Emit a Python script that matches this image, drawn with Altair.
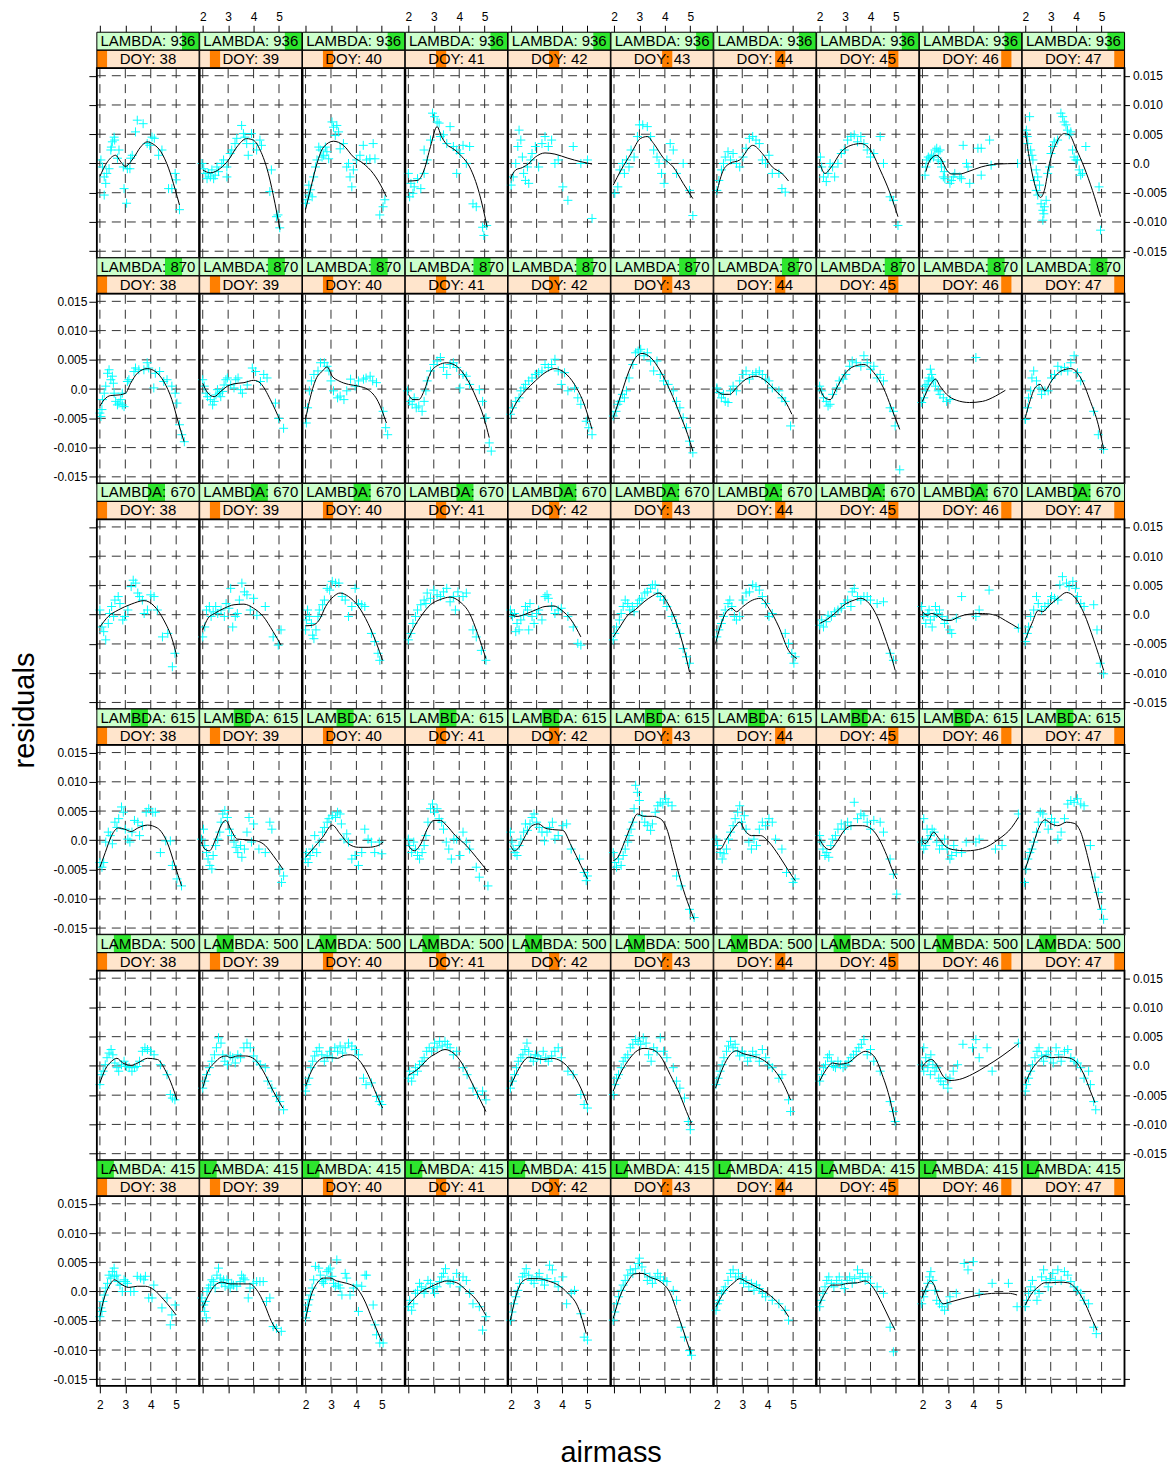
import altair as alt
import pandas as pd

# ---------------- categories / ticks ----------------
LAMBDA_ROWS = [936, 870, 670, 615, 500, 415]          # top to bottom
LAMBDA_LEVELS = [415, 500, 615, 670, 870, 936]        # factor order (strip highlight)
DOYS = [38, 39, 40, 41, 42, 43, 44, 45, 46, 47]
X_TICKS = [2, 3, 4, 5]
Y_TICKS = [-0.015, -0.010, -0.005, 0.0, 0.005, 0.010, 0.015]

# ---------------- smooth curves (airmass, residual*1e3), one list per DOY ----------------
CURVE_936 = [
    [2.0,-2.2, 2.3,0.3, 2.62,1.4, 2.8,0.4, 3.0,-0.5, 3.3,0.8, 3.6,2.8, 3.86,3.7, 4.1,3.3, 4.4,2.0, 4.7,-0.8, 4.95,-4.3, 5.13,-7.1],
    [2.0,-1.1, 2.3,-1.6, 2.69,-0.85, 3.01,0.57, 3.34,2.8, 3.73,4.25, 4.0,3.96, 4.26,2.27, 4.58,-1.7, 4.84,-6.8, 5.04,-11.3],
    [2.0,-7.9, 2.19,-4.5, 2.45,0.0, 2.71,2.8, 3.1,3.8, 3.49,3.1, 3.88,1.13, 4.27,0.0, 4.66,-1.7, 5.05,-4.5, 5.18,-5.7],
    [2.0,-3.0, 2.36,-2.9, 2.62,-1.1, 2.87,2.9, 3.13,6.3, 3.3,4.6, 3.5,3.3, 3.8,2.4, 4.1,1.2, 4.41,-0.6, 4.79,-5.1, 5.10,-10.9],
    [1.97,-2.6, 2.18,-1.1, 2.44,-0.7, 2.69,0.0, 2.95,1.1, 3.33,1.8, 3.72,1.6, 4.23,0.9, 4.74,0.3, 5.18,-0.1],
    [1.97,-3.7, 2.28,-1.1, 2.67,1.7, 3.05,4.3, 3.31,4.6, 3.56,3.4, 3.95,0.9, 4.33,-0.6, 4.72,-3.4, 5.10,-6.0],
    [2.0,-4.9, 2.26,-1.1, 2.51,0.0, 2.9,0.6, 3.41,3.1, 3.79,1.7, 4.18,-0.6, 4.56,-1.7, 4.82,-3.0],
    [2.03,-0.3, 2.21,-1.7, 2.46,-0.6, 2.85,2.0, 3.23,3.1, 3.62,3.4, 4.0,2.3, 4.38,-1.1, 4.77,-5.1, 5.08,-9.1],
    [2.13,-1.4, 2.30,0.6, 2.56,1.4, 2.75,0.6, 2.95,-1.1, 3.14,-1.8, 3.47,-1.8, 3.79,-1.4, 4.31,-0.6, 4.96,-0.1, 5.74,0.0],
    [2.0,5.4, 2.17,0.6, 2.36,-3.4, 2.60,-5.8, 2.75,-4.6, 2.95,0.0, 3.21,3.4, 3.53,5.1, 3.73,4.9, 3.99,2.6, 4.31,-0.6, 4.64,-4.6, 4.96,-9.1],
]
CURVE_870 = [
    [2.0,-2.9, 2.17,-1.8, 2.43,-1.1, 2.75,-1.0, 3.01,-0.7, 3.21,1.0, 3.47,2.7, 3.86,3.5, 4.18,3.0, 4.51,1.3, 4.83,-1.8, 5.09,-5.8, 5.31,-9.0],
    [2.0,1.0, 2.19,-0.6, 2.45,-1.3, 2.71,-0.4, 2.97,0.5, 3.23,0.9, 3.62,1.1, 4.01,1.5, 4.27,1.0, 4.66,-1.8, 5.05,-5.5],
    [2.0,-5.2, 2.15,-2.1, 2.41,1.7, 2.67,3.1, 2.85,3.8, 3.05,2.2, 3.31,1.4, 3.69,0.8, 4.08,0.5, 4.46,-0.1, 4.85,-2.1, 5.18,-5.8],
    [2.0,-0.9, 2.18,-1.8, 2.41,-1.8, 2.62,-0.3, 2.87,2.8, 3.18,4.1, 3.51,4.5, 3.90,3.9, 4.28,1.9, 4.67,-1.5, 4.97,-4.9, 5.18,-8.3],
    [1.97,-4.3, 2.23,-2.1, 2.56,-0.3, 2.95,1.4, 3.33,2.8, 3.72,3.5, 4.10,2.8, 4.49,0.8, 4.87,-2.6, 5.18,-6.9],
    [1.97,-4.9, 2.28,-0.9, 2.59,3.1, 2.85,5.4, 3.10,6.1, 3.44,5.4, 3.82,3.1, 4.21,-0.3, 4.59,-4.3, 4.90,-7.8, 5.10,-10.6],
    [2.0,-0.3, 2.26,-0.9, 2.51,-0.9, 2.77,0.2, 3.15,1.7, 3.54,2.2, 3.92,1.4, 4.31,-0.3, 4.69,-2.1, 4.95,-4.3],
    [2.0,0.2, 2.21,-1.5, 2.41,-1.8, 2.67,0.2, 2.97,2.5, 3.36,3.9, 3.74,4.2, 4.13,2.8, 4.51,0.2, 4.82,-3.2, 5.15,-6.9],
    [2.0,-2.1, 2.18,-0.3, 2.36,1.1, 2.51,1.7, 2.69,0.5, 2.95,-0.9, 3.33,-1.9, 3.85,-2.3, 4.36,-2.1, 4.87,-1.2, 5.26,-0.2],
    [2.0,-4.9, 2.18,-2.1, 2.38,0.2, 2.59,0.8, 2.77,-0.3, 3.03,1.4, 3.41,3.1, 3.79,3.5, 4.18,1.9, 4.56,-2.1, 4.87,-6.1, 5.08,-10.3],
]
CURVE_670 = [
    [2.0,-2.1, 2.33,-0.3, 2.72,0.8, 3.23,1.8, 3.74,2.4, 4.13,1.5, 4.51,-0.9, 4.85,-4.3, 5.03,-7.2],
    [2.0,-2.6, 2.21,-0.6, 2.46,0.2, 2.85,1.1, 3.23,1.7, 3.62,1.8, 4.0,1.1, 4.38,-0.3, 4.77,-2.9, 5.08,-5.2],
    [2.0,-1.9, 2.28,-1.8, 2.54,-0.9, 2.79,1.4, 3.10,3.1, 3.36,3.7, 3.69,3.1, 4.08,1.4, 4.46,-1.5, 4.79,-4.9, 5.03,-7.8],
    [2.0,-4.1, 2.23,-2.1, 2.49,-0.3, 2.87,1.7, 3.26,2.6, 3.64,3.0, 4.03,2.2, 4.41,0.2, 4.72,-3.2, 5.05,-7.5],
    [1.97,0.1, 2.23,-0.3, 2.56,0.1, 2.95,0.8, 3.33,1.4, 3.67,1.5, 3.97,0.8, 4.36,-0.9, 4.74,-3.8],
    [1.97,-3.8, 2.23,-2.1, 2.54,-0.1, 2.85,0.9, 3.18,2.2, 3.51,3.2, 3.77,3.7, 4.08,2.2, 4.46,-1.5, 4.77,-6.1, 4.97,-9.8],
    [1.95,-4.9, 2.13,-2.1, 2.38,0.5, 2.59,1.1, 2.77,0.5, 3.03,1.4, 3.41,2.5, 3.72,2.8, 4.05,1.1, 4.44,-2.1, 4.82,-6.1, 5.15,-7.5],
    [2.0,-1.5, 2.26,-0.9, 2.59,0.2, 2.97,1.7, 3.36,2.5, 3.62,2.8, 3.95,1.9, 4.26,-0.3, 4.56,-3.8, 4.82,-7.2, 4.97,-9.5],
    [2.0,0.5, 2.18,-0.1, 2.36,0.2, 2.56,-0.1, 2.82,-0.9, 3.08,-1.0, 3.46,-0.3, 3.85,0.1, 4.36,0.2, 4.87,-0.1, 5.26,-1.0, 5.77,-2.3],
    [2.0,-4.3, 2.26,-1.5, 2.51,0.7, 2.69,0.5, 2.90,1.4, 3.28,2.8, 3.62,3.8, 3.92,3.1, 4.31,0.2, 4.69,-4.3, 5.08,-9.5],
]
CURVE_615 = [
    [2.0,-4.6, 2.21,-2.1, 2.46,0.8, 2.72,2.1, 2.97,1.9, 3.23,1.5, 3.49,2.1, 3.87,2.6, 4.26,2.1, 4.64,-0.3, 4.95,-4.3, 5.21,-7.8],
    [1.95,-0.3, 2.08,-1.5, 2.26,-1.8, 2.51,0.2, 2.72,2.5, 2.90,3.4, 3.10,1.9, 3.36,0.2, 3.74,0.1, 4.13,-0.1, 4.46,-0.9, 4.77,-2.6, 5.15,-4.9],
    [2.0,-2.9, 2.28,-1.5, 2.67,0.5, 3.05,2.6, 3.36,1.1, 3.69,-0.6, 4.08,-1.2, 4.46,-1.2, 4.85,-0.9, 5.05,-0.3],
    [2.0,-0.9, 2.23,-1.8, 2.49,-0.6, 2.74,1.9, 3.0,3.4, 3.26,3.4, 3.51,2.5, 3.85,0.8, 4.28,-0.9, 4.67,-2.9, 5.13,-5.4],
    [1.97,-0.9, 2.13,-1.8, 2.31,-1.2, 2.56,0.8, 2.82,2.5, 3.08,2.8, 3.33,2.1, 3.72,1.8, 4.03,1.7, 4.36,-0.9, 4.74,-4.3, 5.0,-6.6],
    [1.97,-3.5, 2.15,-2.9, 2.41,-0.3, 2.67,2.5, 2.92,4.5, 3.18,4.1, 3.51,4.1, 3.82,3.7, 4.08,1.9, 4.33,-2.1, 4.64,-7.2, 4.97,-11.5, 5.15,-13.5],
    [1.97,-1.5, 2.13,-1.5, 2.38,0.2, 2.64,1.9, 2.90,3.1, 3.10,1.7, 3.36,0.8, 3.72,0.8, 4.05,-0.3, 4.44,-2.6, 4.82,-5.2, 5.08,-6.9],
    [2.0,0.2, 2.21,-1.2, 2.41,-1.6, 2.67,-0.3, 2.97,1.7, 3.28,2.5, 3.69,2.5, 4.05,1.9, 4.38,-0.1, 4.64,-2.6, 4.90,-5.5, 5.03,-6.6],
    [2.0,-0.1, 2.10,-0.6, 2.26,0.2, 2.44,1.4, 2.62,0.5, 2.87,-0.9, 3.21,-1.6, 3.72,-1.8, 4.36,-1.4, 5.0,0.2, 5.51,2.2, 5.77,3.9],
    [2.0,-4.9, 2.26,-1.5, 2.51,1.9, 2.77,3.5, 3.03,2.8, 3.28,2.5, 3.62,3.1, 3.92,2.9, 4.18,1.4, 4.44,-2.6, 4.69,-7.2, 4.95,-11.8],
]
CURVE_500 = [
    [2.0,-2.9, 2.21,-0.6, 2.46,0.8, 2.67,1.3, 2.90,0.5, 3.23,0.1, 3.49,0.5, 3.87,1.3, 4.26,1.1, 4.59,-0.9, 4.85,-3.5, 5.03,-5.8],
    [2.0,-3.8, 2.21,-0.9, 2.46,0.5, 2.72,1.5, 2.92,1.7, 3.10,1.4, 3.36,1.7, 3.69,1.7, 4.05,1.1, 4.38,-0.9, 4.77,-4.3, 5.15,-7.2],
    [2.0,-3.5, 2.23,-0.9, 2.49,0.8, 2.74,1.4, 3.0,1.4, 3.26,1.3, 3.51,1.8, 3.77,1.9, 4.08,1.1, 4.46,-1.5, 4.79,-4.9, 5.03,-7.2],
    [2.0,-1.6, 2.23,-1.0, 2.49,-0.1, 2.74,1.1, 3.08,2.1, 3.44,2.8, 3.77,2.2, 4.10,0.5, 4.41,-2.1, 4.79,-5.5, 5.05,-7.8],
    [1.97,-3.5, 2.18,-1.5, 2.44,0.5, 2.69,1.5, 2.95,1.3, 3.26,1.1, 3.59,1.3, 3.97,0.8, 4.36,-0.9, 4.74,-3.8, 5.0,-6.6],
    [1.97,-4.3, 2.23,-1.5, 2.54,0.8, 2.85,2.4, 3.18,3.0, 3.51,2.8, 3.82,1.7, 4.21,-1.5, 4.59,-4.9, 4.85,-7.8, 5.05,-9.8],
    [1.95,-3.8, 2.18,-0.9, 2.44,1.4, 2.77,2.6, 3.03,2.1, 3.41,1.7, 3.79,1.1, 4.18,-0.3, 4.56,-2.6, 4.90,-5.8],
    [2.0,-2.6, 2.26,-0.6, 2.51,0.5, 2.77,0.3, 3.10,0.5, 3.49,1.8, 3.79,2.5, 4.13,1.7, 4.46,-1.5, 4.77,-5.8, 4.97,-9.8],
    [2.0,-0.1, 2.18,0.8, 2.36,1.1, 2.56,0.2, 2.82,-1.8, 3.08,-2.5, 3.46,-2.3, 3.97,-1.4, 4.49,-0.1, 5.13,1.7, 5.77,3.8],
    [2.0,-2.9, 2.26,-0.6, 2.51,0.8, 2.77,1.7, 3.03,1.4, 3.36,1.5, 3.67,1.4, 3.97,0.8, 4.31,-1.5, 4.56,-4.3, 4.74,-6.3],
]
CURVE_415 = [
    [2.0,-4.3, 2.17,-1.1, 2.36,0.9, 2.58,2.0, 2.82,1.3, 3.14,0.7, 3.47,0.9, 3.79,0.9, 4.12,0.3, 4.51,-1.4, 5.0,-4.0],
    [2.0,-2.8, 2.23,-0.6, 2.49,1.1, 2.75,1.6, 3.08,1.3, 3.41,1.3, 3.86,1.3, 4.12,0.3, 4.44,-2.3, 4.70,-5.1, 5.0,-7.1],
    [2.0,-4.8, 2.19,-1.1, 2.45,1.4, 2.71,2.3, 2.97,2.3, 3.23,1.8, 3.62,1.4, 4.01,0.6, 4.27,-1.1, 4.66,-5.1, 4.99,-8.5],
    [2.0,-2.3, 2.23,-1.2, 2.56,0.1, 2.87,0.8, 3.18,1.4, 3.51,1.8, 3.90,1.5, 4.28,0.2, 4.67,-1.4, 5.05,-4.1],
    [1.97,-4.9, 2.18,-0.9, 2.44,1.7, 2.69,2.2, 3.08,2.2, 3.46,1.8, 3.85,1.1, 4.23,-0.3, 4.62,-2.6, 4.95,-7.2],
    [1.97,-4.6, 2.23,-0.9, 2.54,1.7, 2.79,3.0, 3.10,3.1, 3.44,2.4, 3.82,1.7, 4.21,-0.3, 4.54,-4.3, 4.85,-8.3, 5.03,-10.6],
    [1.97,-2.6, 2.26,-0.3, 2.64,1.4, 2.90,2.2, 3.15,1.7, 3.54,0.8, 3.92,-0.1, 4.31,-1.5, 4.64,-3.1, 4.82,-4.3],
    [2.0,-2.1, 2.21,-0.3, 2.46,1.1, 2.77,1.1, 3.10,1.4, 3.49,1.5, 3.79,1.8, 4.13,0.5, 4.46,-2.1, 4.77,-4.9, 4.97,-6.6],
    [1.97,-1.2, 2.13,0.5, 2.31,1.8, 2.46,1.1, 2.62,-0.9, 2.82,-2.1, 3.08,-1.8, 3.59,-1.2, 4.23,-0.6, 4.87,-0.3, 5.38,-0.3, 5.72,-0.6],
    [2.0,-2.3, 2.26,-0.3, 2.51,0.8, 2.77,1.5, 3.03,1.5, 3.36,1.6, 3.67,1.5, 4.05,0.2, 4.38,-2.3, 4.64,-4.9, 4.82,-6.6],
]

# ---------------- observed residuals (airmass, residual*1e3), one list per DOY ----------------
POINTS_936 = [
    [2.04,0.6, 2.10,-0.6, 2.17,-2.3, 2.23,-3.4, 2.17,-5.4, 2.27,-1.7, 2.36,-0.9, 2.45,2.8, 2.49,3.7, 2.56,4.5, 2.58,4.0, 2.43,2.3, 2.75,2.3, 2.69,0.9, 2.95,-4.3, 3.05,-6.8, 2.92,-0.6, 3.08,-0.9, 3.18,-0.9, 3.21,0.9, 3.27,1.4, 3.40,5.4, 3.47,7.4, 3.70,6.8, 3.86,3.4, 3.96,3.1, 4.05,4.5, 4.14,4.3, 4.31,1.4, 4.44,2.3, 4.70,-4.3, 4.83,-4.3, 4.96,-1.7, 5.00,-2.8, 5.13,-7.9],
    [1.97,0.0, 2.04,-0.9, 2.10,-1.7, 2.17,-2.6, 2.23,-1.7, 2.30,-2.3, 2.36,-1.1, 2.43,-2.6, 2.49,-2.0, 2.56,-0.6, 2.62,-1.4, 2.75,0.0, 2.82,0.6, 2.95,-0.6, 2.95,-2.3, 3.08,1.7, 3.14,2.3, 3.27,3.4, 3.34,4.3, 3.53,6.5, 3.60,5.1, 3.66,4.5, 3.73,3.4, 3.79,1.4, 3.92,5.1, 3.99,3.4, 4.12,2.3, 4.25,4.0, 4.31,3.1, 4.64,-4.8, 4.70,-1.1, 4.90,-9.1, 4.96,-8.8, 5.03,-11.0],
    [2.0,-6.8, 2.06,-6.2, 2.13,-5.4, 2.19,-4.5, 2.26,-5.7, 2.13,-3.7, 2.32,-2.3, 2.39,-0.6, 2.45,0.6, 2.52,2.8, 2.58,2.3, 2.65,1.1, 2.71,1.4, 2.78,2.8, 2.84,2.0, 2.91,0.8, 3.04,7.1, 3.10,6.2, 3.23,6.5, 3.30,5.4, 3.17,4.8, 3.36,2.5, 3.49,3.4, 3.62,-0.6, 3.69,0.0, 3.75,-2.3, 3.82,-4.0, 3.88,-1.1, 4.01,0.6, 4.14,1.4, 4.27,3.1, 4.40,0.6, 4.53,0.8, 4.66,3.4, 4.73,0.8, 4.92,-8.8, 5.05,-7.4, 5.12,-6.2],
    [2.0,-1.7, 2.10,-3.4, 2.23,-4.0, 2.36,-2.6, 2.49,-4.3, 2.05,-5.7, 2.18,-5.1, 2.62,-1.7, 2.74,0.6, 2.62,2.3, 2.87,4.0, 2.95,8.6, 3.03,8.0, 3.13,7.1, 3.21,6.9, 3.26,4.6, 3.38,4.9, 3.51,3.4, 3.64,6.3, 3.77,2.9, 3.90,2.3, 4.03,1.7, 4.15,3.1, 4.28,0.0, 4.41,2.9, 3.90,-1.7, 4.54,-6.9, 4.67,-7.4, 4.92,-10.9, 4.97,-12.3, 5.08,-10.6],
    [2.0,-3.7, 2.08,-2.3, 2.18,0.0, 2.26,2.9, 2.31,5.7, 2.38,4.0, 2.44,1.1, 2.49,-1.7, 2.56,-2.9, 2.64,-0.6, 2.69,-3.4, 2.77,0.6, 2.82,1.7, 2.95,2.9, 3.08,-0.6, 3.21,3.4, 3.33,4.6, 3.46,2.9, 3.59,4.0, 3.72,0.0, 3.85,0.6, 4.03,-4.0, 4.23,-6.3, 4.44,2.9, 4.74,0.0, 5.0,0.6, 5.18,-9.4],
    [2.03,-5.1, 2.15,-4.0, 2.23,-1.1, 2.33,0.0, 2.41,-1.7, 2.49,0.6, 2.59,-0.6, 2.67,2.3, 2.79,1.1, 2.92,4.6, 3.0,6.6, 3.13,6.6, 3.31,6.3, 3.44,4.6, 3.56,2.3, 3.69,1.1, 3.77,0.0, 3.87,-1.7, 3.97,-3.4, 4.08,0.6, 4.21,3.4, 4.33,2.3, 4.46,-1.7, 4.72,0.0, 4.97,-4.6, 5.10,-8.9],
    [2.0,-4.6, 2.08,-2.9, 2.18,-1.1, 2.26,0.0, 2.33,1.1, 2.44,2.0, 2.54,0.6, 2.64,1.7, 2.77,0.0, 2.90,-0.6, 3.03,1.1, 3.15,2.6, 3.28,4.3, 3.41,4.6, 3.54,4.0, 3.67,3.4, 3.79,0.6, 3.92,0.0, 4.05,1.4, 4.18,-1.7, 4.44,-1.7, 4.56,-4.3, 4.69,-4.9],
    [2.03,1.1, 2.08,-0.6, 2.15,-2.3, 2.26,-3.1, 2.33,-1.7, 2.41,0.0, 2.51,-0.6, 2.59,-2.3, 2.72,0.0, 2.85,1.7, 2.97,2.3, 3.10,4.0, 3.23,4.6, 3.36,4.9, 3.49,3.7, 3.62,4.6, 3.74,3.4, 3.87,2.3, 4.0,1.1, 4.13,1.7, 4.38,4.6, 4.51,0.0, 4.77,-5.7, 4.90,-6.3, 5.08,-10.6],
    [2.10,-2.0, 2.13,-0.6, 2.17,0.6, 2.23,1.1, 2.30,0.9, 2.36,1.4, 2.43,1.1, 2.49,2.3, 2.56,2.6, 2.62,2.0, 2.62,0.6, 2.69,2.3, 2.73,0.3, 2.75,-0.6, 2.82,-2.3, 2.86,-1.4, 2.88,-2.6, 3.08,-3.4, 3.14,-2.9, 3.21,-2.3, 3.27,-1.7, 3.47,-2.3, 3.53,-2.6, 3.60,3.1, 3.73,0.0, 3.79,-0.6, 3.86,-3.4, 4.18,2.6, 4.31,2.6, 4.31,-2.0, 4.64,4.0, 4.70,-0.3, 5.74,0.0],
    [2.04,5.7, 2.08,4.6, 2.10,3.4, 2.17,8.0, 2.21,2.3, 2.26,1.4, 2.30,0.6, 2.36,-2.9, 2.43,-1.1, 2.49,-2.3, 2.43,-4.6, 2.49,-5.4, 2.56,-3.7, 2.62,-6.9, 2.69,-8.0, 2.73,-8.6, 2.69,-9.7, 2.75,-7.4, 2.82,-6.3, 2.88,-1.7, 2.95,-0.6, 3.01,1.7, 3.08,2.9, 3.14,3.7, 3.27,4.0, 3.40,8.6, 3.47,8.0, 3.53,7.1, 3.60,6.6, 3.66,5.7, 3.73,4.9, 3.79,5.4, 3.86,2.3, 3.92,1.1, 3.99,0.6, 4.05,0.6, 4.12,-1.1, 4.18,-2.0, 4.25,-1.7, 4.38,2.9, 4.90,-4.0, 4.96,-11.4],
]
POINTS_870 = [
    [2.0,-4.1, 2.04,-4.7, 2.08,-3.5, 2.10,-1.8, 2.17,-0.7, 2.23,0.5, 2.30,2.7, 2.36,3.3, 2.43,1.6, 2.49,2.2, 2.53,1.0, 2.56,-0.7, 2.62,-2.1, 2.69,-2.7, 2.75,-2.4, 2.82,-1.8, 2.88,-2.7, 2.95,-3.0, 2.88,-0.7, 3.08,1.3, 3.14,1.6, 3.34,3.0, 3.40,3.6, 3.53,3.3, 3.73,3.3, 3.86,4.5, 3.92,3.6, 4.12,0.2, 4.18,2.7, 4.35,3.0, 4.51,1.3, 4.64,1.6, 4.83,0.5, 4.96,-0.7, 5.03,-2.4, 5.13,-6.1, 5.22,-7.8, 5.32,-9.0],
    [2.0,1.6, 2.06,0.5, 2.13,-0.7, 2.19,-1.3, 2.30,-1.8, 2.39,-2.7, 2.45,-2.1, 2.52,-1.0, 2.58,-0.1, 2.65,-0.7, 2.71,-1.3, 2.78,-0.4, 2.84,0.7, 2.91,1.6, 2.97,1.9, 3.10,0.7, 3.23,0.2, 3.30,1.6, 3.39,1.9, 3.49,-0.1, 3.56,-0.7, 3.75,0.7, 3.95,3.6, 4.08,3.0, 4.27,1.3, 4.40,2.5, 4.53,1.9, 4.86,-2.4, 4.99,-5.0, 5.18,-6.7],
    [2.03,-5.8, 2.08,-3.2, 2.15,-0.3, 2.23,1.4, 2.33,2.5, 2.49,3.1, 2.59,4.5, 2.74,4.5, 2.85,3.9, 2.92,3.1, 3.0,1.4, 3.10,-0.3, 3.26,-1.5, 3.36,-1.2, 3.51,-1.8, 3.62,-0.3, 3.77,1.7, 3.95,0.5, 4.08,1.4, 4.28,1.7, 4.38,1.9, 4.54,2.2, 4.64,1.4, 4.79,1.1, 5.05,-3.8, 5.15,-6.6, 5.23,-7.8],
    [1.97,-0.3, 2.05,-2.1, 2.15,-2.6, 2.23,-1.5, 2.31,-3.2, 2.41,-2.9, 2.54,-3.8, 2.62,-2.1, 2.69,-0.3, 2.74,1.4, 2.87,3.1, 3.0,4.2, 3.13,4.8, 3.26,5.4, 3.38,3.7, 3.51,2.5, 3.64,4.2, 3.77,4.5, 3.90,3.7, 4.03,0.2, 4.15,2.5, 4.28,2.2, 4.41,0.8, 4.79,-0.1, 4.92,-2.1, 5.05,-4.9, 5.18,-9.2, 5.26,-10.6],
    [1.97,-4.3, 2.05,-3.2, 2.18,-2.1, 2.31,-1.5, 2.38,-0.3, 2.49,0.2, 2.56,0.8, 2.69,1.4, 2.82,1.9, 2.95,2.5, 3.08,2.8, 3.21,3.1, 3.33,4.2, 3.46,3.7, 3.59,4.2, 3.72,5.1, 3.85,3.1, 3.97,0.8, 4.10,2.8, 4.23,-0.3, 4.49,0.2, 4.62,-1.5, 4.74,-2.6, 4.95,-5.5, 5.05,-6.6, 5.18,-7.8],
    [1.97,-4.6, 2.08,-3.8, 2.15,-2.6, 2.23,-2.1, 2.33,-0.9, 2.41,-1.5, 2.49,-0.3, 2.59,1.9, 2.74,4.2, 2.85,6.2, 2.95,6.5, 3.05,6.8, 3.18,5.7, 3.31,6.2, 3.44,4.8, 3.56,3.1, 3.69,4.8, 3.82,2.5, 3.95,1.4, 4.13,0.8, 4.33,-0.3, 4.46,-2.1, 4.59,-3.2, 4.72,-4.9, 4.85,-6.6, 4.97,-8.9, 5.10,-10.9],
    [2.0,0.2, 2.08,-0.6, 2.18,-1.5, 2.26,-0.9, 2.33,-2.1, 2.44,-2.3, 2.54,-0.3, 2.64,0.5, 2.77,-0.3, 2.90,1.4, 3.03,2.5, 3.15,3.1, 3.28,1.7, 3.41,2.5, 3.54,2.8, 3.67,3.1, 3.79,2.5, 3.92,1.7, 4.05,1.4, 4.18,0.2, 4.44,-0.3, 4.56,-1.5, 4.69,-2.1, 4.90,-6.3],
    [2.0,0.5, 2.08,-0.3, 2.15,-1.5, 2.26,-2.1, 2.33,-2.9, 2.41,-2.6, 2.51,-0.9, 2.67,0.2, 2.77,1.4, 2.92,1.7, 3.03,2.5, 3.18,3.9, 3.28,4.8, 3.44,4.5, 3.62,3.9, 3.74,5.7, 3.87,4.5, 4.0,3.4, 4.13,3.9, 4.26,1.9, 4.38,2.5, 4.51,1.4, 4.77,-3.2, 4.90,-3.8, 4.97,-6.3, 5.15,-13.8],
    [1.97,-2.3, 2.05,-1.5, 2.13,-0.3, 2.18,0.8, 2.26,1.9, 2.31,3.4, 2.36,2.5, 2.44,1.4, 2.51,0.5, 2.62,-0.3, 2.69,-0.9, 2.82,-1.5, 2.95,-2.1, 3.08,-1.8, 4.10,5.4, 2.10,0.5, 2.23,1.4, 2.38,1.7],
    [2.0,-5.2, 2.08,-3.2, 2.13,-1.5, 2.21,-0.3, 2.26,1.9, 2.33,3.1, 2.44,1.4, 2.54,0.2, 2.64,-0.9, 2.77,-0.3, 2.90,-0.3, 3.03,1.9, 3.15,2.5, 3.28,3.9, 3.41,3.1, 3.54,3.7, 3.67,3.1, 3.79,4.5, 3.92,5.7, 4.05,2.8, 4.18,1.4, 4.69,-3.8, 4.87,-7.8, 5.08,-10.3],
]
POINTS_670 = [
    [2.0,0.8, 2.08,-2.1, 2.15,-2.9, 2.23,-4.3, 2.33,-1.5, 2.38,0.2, 2.46,1.4, 2.54,-0.3, 2.59,2.5, 2.72,3.1, 2.79,1.9, 2.90,-0.9, 2.97,-0.3, 3.10,0.8, 3.23,4.8, 3.31,5.9, 3.41,5.4, 3.49,3.7, 3.56,3.1, 3.67,2.5, 3.74,0.2, 3.87,0.8, 4.0,3.4, 4.13,3.1, 4.26,0.8, 4.46,-3.8, 4.67,-3.2, 4.85,-8.9, 4.95,-6.6],
    [2.0,-3.8, 2.08,-2.1, 2.15,0.8, 2.26,1.4, 2.33,-0.3, 2.41,0.5, 2.51,1.4, 2.59,0.2, 2.72,0.8, 2.85,-0.3, 2.92,1.9, 3.03,1.1, 3.10,4.5, 3.18,-2.1, 3.28,-0.3, 3.36,0.2, 3.44,2.5, 3.54,5.4, 3.64,3.9, 3.74,3.4, 3.87,0.8, 4.0,2.8, 4.13,-0.1, 4.46,1.4, 4.77,-3.8, 4.97,-5.2, 5.08,-2.6],
    [2.0,-2.6, 2.03,-0.9, 2.08,0.8, 2.15,-0.3, 2.23,-1.5, 2.28,-3.5, 2.33,-4.1, 2.41,-2.6, 2.49,-0.3, 2.54,0.8, 2.67,1.7, 2.74,2.5, 2.85,4.5, 2.95,4.2, 3.05,5.7, 3.18,5.4, 3.31,5.4, 3.44,3.1, 3.56,2.5, 3.69,-0.3, 3.82,1.4, 3.95,4.5, 4.08,1.9, 4.21,1.7, 4.33,1.4, 4.59,-3.2, 4.72,-4.6, 4.85,-6.6, 4.92,-7.8],
    [2.0,-4.3, 2.10,-3.2, 2.18,-1.5, 2.28,-0.3, 2.36,0.8, 2.49,1.7, 2.62,2.5, 2.69,1.9, 2.74,3.7, 2.87,2.8, 3.0,4.2, 3.13,3.4, 3.26,3.1, 3.38,3.9, 3.51,4.5, 3.64,2.2, 3.77,3.1, 3.85,0.8, 3.95,3.9, 4.15,3.1, 4.28,3.7, 4.54,-2.6, 4.67,-3.8, 4.87,-6.1, 5.05,-7.8],
    [1.97,0.8, 2.05,-0.3, 2.13,0.2, 2.23,-1.5, 2.31,-2.6, 2.38,-0.9, 2.49,-0.1, 2.56,1.4, 2.64,0.8, 2.74,1.9, 2.82,-0.3, 2.90,-1.5, 3.0,0.2, 3.08,0.8, 3.21,-0.9, 3.33,3.1, 3.46,2.8, 3.59,1.4, 3.72,0.2, 3.85,0.8, 3.97,1.1, 4.23,-0.3, 4.44,-2.1, 4.62,-4.9, 4.74,-5.2, 2.18,-2.9, 2.69,-2.6, 3.41,3.4],
    [1.97,-4.3, 2.03,-3.2, 2.10,-2.1, 2.21,-0.9, 2.28,0.2, 2.36,1.4, 2.44,2.5, 2.54,1.9, 2.62,0.8, 2.72,1.4, 2.79,0.5, 2.92,1.9, 3.0,2.5, 3.10,2.8, 3.21,3.7, 3.31,3.9, 3.44,4.5, 3.51,5.1, 3.62,5.1, 3.72,3.7, 3.82,3.1, 3.95,2.5, 4.08,1.4, 4.28,-0.3, 4.46,-1.5, 4.59,-3.2, 4.72,-5.8, 4.85,-7.2, 4.97,-8.3],
    [2.0,-3.8, 2.08,-2.6, 2.18,-1.5, 2.26,-0.3, 2.33,0.8, 2.44,1.9, 2.51,2.5, 2.59,1.4, 2.69,-0.3, 2.77,-0.9, 2.90,-0.3, 3.03,2.5, 3.15,3.7, 3.28,3.9, 3.41,5.1, 3.54,4.8, 3.67,4.2, 3.79,3.1, 3.92,1.9, 4.05,-0.3, 4.18,0.2, 4.69,-3.2, 4.82,-4.9, 4.95,-6.6, 5.03,-8.3, 5.08,-7.2],
    [2.0,-1.8, 2.08,-0.9, 2.15,-2.1, 2.26,-1.2, 2.33,-0.1, 2.46,-0.3, 2.59,0.5, 2.72,0.8, 2.85,1.1, 2.97,1.9, 3.10,2.5, 3.23,1.4, 3.28,3.9, 3.36,4.5, 3.49,3.1, 3.62,2.5, 3.74,3.1, 3.87,3.1, 4.0,2.5, 4.26,1.9, 4.51,2.2, 4.77,-6.6, 4.90,-7.8],
    [1.97,1.4, 2.05,-0.3, 2.13,-1.5, 2.21,0.2, 2.26,0.8, 2.31,-0.9, 2.38,-2.1, 2.46,-0.3, 2.51,1.4, 2.56,0.2, 2.67,0.8, 2.77,-0.3, 2.87,-1.5, 2.97,-0.9, 3.08,-2.6, 3.15,-3.2, 3.33,-0.6, 3.54,3.1, 4.10,-0.3, 4.23,0.8, 4.62,4.2, 5.77,-2.3],
    [2.0,-4.6, 2.08,-3.2, 2.13,-2.1, 2.21,-0.3, 2.33,0.8, 2.44,3.1, 2.51,1.9, 2.64,0.8, 2.77,1.4, 2.90,1.9, 3.03,3.1, 3.15,2.8, 3.28,2.5, 3.36,5.1, 3.46,6.5, 3.62,5.4, 3.72,4.8, 3.87,5.7, 3.97,4.5, 4.05,3.1, 4.18,1.9, 4.31,1.4, 4.69,1.7, 4.82,-2.6, 4.95,-8.3, 5.08,-10.1],
]
POINTS_615 = [
    [2.0,-3.8, 2.08,-4.6, 2.15,-3.8, 2.23,-0.3, 2.33,1.4, 2.41,0.8, 2.49,-0.6, 2.59,3.1, 2.67,2.2, 2.74,3.7, 2.85,5.7, 2.92,4.8, 3.0,1.9, 3.10,0.2, 3.18,-0.3, 3.26,1.4, 3.36,3.4, 3.49,3.1, 3.56,0.8, 3.67,2.5, 3.82,4.8, 3.92,5.4, 4.08,4.8, 4.18,4.8, 4.38,-2.1, 4.59,-0.1, 4.77,-0.1, 4.85,-4.3, 5.03,-6.6, 5.21,-7.8],
    [1.95,0.2, 2.03,1.9, 2.08,-0.9, 2.15,-2.1, 2.21,-3.2, 2.28,-4.3, 2.36,-4.9, 2.41,-2.6, 2.51,-0.9, 2.59,0.2, 2.67,1.4, 2.72,3.1, 2.79,4.5, 2.87,5.1, 2.97,3.9, 3.05,1.9, 3.13,0.8, 3.23,-0.3, 3.31,-1.2, 3.38,-2.1, 3.49,-0.9, 3.54,-2.9, 3.64,-1.5, 3.74,1.4, 3.82,3.9, 3.92,-0.3, 4.0,2.8, 4.21,-1.5, 4.46,-2.1, 4.64,3.1, 4.72,1.9, 5.03,-4.9, 5.10,-7.2, 5.18,-6.1],
    [2.0,-3.2, 2.03,-2.1, 2.10,-3.8, 2.18,-2.6, 2.28,-1.5, 2.36,0.8, 2.44,-2.1, 2.54,-0.3, 2.67,1.4, 2.74,2.2, 2.85,3.1, 2.92,3.7, 3.05,4.2, 3.18,3.9, 3.26,4.8, 3.36,4.5, 3.41,2.8, 3.51,0.2, 3.62,1.1, 3.69,-0.3, 3.82,-3.2, 3.95,-2.6, 4.08,-4.3, 4.21,-2.1, 4.33,1.9, 4.46,0.2, 4.59,-0.3, 4.72,-2.1, 4.90,-0.3, 5.0,-2.3],
    [2.0,0.2, 2.05,-0.9, 2.13,-2.1, 2.21,-0.3, 2.28,-1.5, 2.36,-2.6, 2.44,-3.2, 2.54,-2.1, 2.62,-0.9, 2.69,0.8, 2.77,3.1, 2.87,5.4, 2.95,6.2, 3.03,4.8, 3.13,5.4, 3.21,3.7, 3.31,3.1, 3.38,1.9, 3.49,-0.3, 3.59,-1.5, 3.69,-3.2, 3.79,0.2, 3.90,0.2, 4.03,-2.6, 4.15,1.4, 4.28,-0.3, 4.41,-1.5, 4.67,-4.6, 4.79,-6.3, 5.13,-7.8],
    [1.97,1.4, 2.03,-0.3, 2.08,-1.5, 2.15,-2.1, 2.23,-2.6, 2.31,-0.9, 2.38,0.2, 2.49,1.4, 2.56,2.8, 2.64,1.7, 2.74,2.8, 2.82,3.9, 2.90,4.5, 3.0,3.1, 3.10,2.2, 3.21,1.4, 3.31,-0.1, 3.41,1.4, 3.51,2.2, 3.62,3.1, 3.72,0.2, 3.85,0.8, 4.03,2.5, 4.18,2.8, 4.36,-1.5, 4.69,-3.2, 4.87,-5.5, 4.95,-6.9, 5.0,-6.1],
    [1.97,-2.1, 2.03,-3.8, 2.10,-4.6, 2.18,-3.2, 2.28,-4.3, 2.36,-2.6, 2.44,-1.5, 2.54,-0.3, 2.59,0.8, 2.67,1.9, 2.74,3.1, 2.79,5.4, 2.85,9.4, 2.92,8.2, 3.0,6.8, 3.10,4.2, 3.21,3.1, 3.31,2.5, 3.44,1.7, 3.51,2.8, 3.62,4.8, 3.72,5.9, 3.82,6.5, 3.92,6.2, 4.03,7.1, 4.13,6.5, 4.28,5.9, 4.46,-6.1, 4.64,-7.8, 4.97,-11.8, 5.15,-13.2],
    [1.97,0.2, 2.03,-0.9, 2.13,-2.1, 2.21,-3.2, 2.28,-2.3, 2.38,-1.5, 2.46,0.2, 2.54,1.4, 2.64,2.5, 2.72,3.7, 2.82,4.8, 2.90,5.9, 2.97,3.1, 3.08,4.2, 3.15,1.9, 3.26,-0.3, 3.36,-1.5, 3.46,0.2, 3.56,-0.9, 3.67,1.9, 3.79,3.1, 3.92,2.5, 4.05,3.7, 4.18,3.1, 4.31,0.2, 4.56,-1.5, 4.74,-5.5, 5.0,-7.2, 5.08,-6.6],
    [2.0,0.8, 2.05,-0.3, 2.13,-1.5, 2.21,-2.6, 2.28,-2.1, 2.36,-2.9, 2.44,-0.9, 2.51,0.2, 2.62,0.8, 2.72,1.9, 2.85,2.8, 2.97,1.9, 3.10,3.1, 3.23,2.5, 3.36,6.5, 3.49,3.7, 3.62,4.5, 3.74,4.2, 3.87,3.1, 4.0,1.9, 4.13,3.4, 4.38,3.1, 4.51,1.4, 4.77,-3.2, 4.90,-5.8, 5.03,-9.2],
    [1.97,-0.3, 2.05,-1.5, 2.13,-0.9, 2.21,0.2, 2.31,0.8, 2.38,1.9, 2.46,1.4, 2.56,-0.3, 2.67,-1.5, 2.77,-0.9, 2.87,0.2, 2.97,-1.5, 3.08,-3.2, 3.15,-2.6, 3.23,-0.9, 3.33,-2.1, 3.54,-2.1, 3.72,-0.3, 4.10,-0.3, 4.23,0.2, 4.87,-1.5, 5.13,-0.9, 2.05,3.7, 2.18,1.9, 5.77,4.5],
    [1.97,-7.2, 2.03,-4.9, 2.10,-3.2, 2.18,-2.1, 2.26,-1.5, 2.33,-0.3, 2.44,1.4, 2.51,3.1, 2.59,4.8, 2.69,4.5, 2.79,3.1, 2.90,1.9, 3.03,3.7, 3.15,3.1, 3.28,0.2, 3.41,1.4, 3.54,3.7, 3.67,6.2, 3.79,6.8, 3.92,6.5, 4.05,7.1, 4.18,6.2, 4.31,5.9, 4.56,-0.9, 4.74,-6.3, 4.87,-8.9, 5.0,-11.8, 5.08,-13.5],
]
POINTS_500 = [
    [2.0,-3.2, 2.05,-1.5, 2.13,-0.9, 2.21,0.2, 2.28,1.4, 2.36,2.2, 2.44,2.8, 2.51,1.9, 2.59,0.5, 2.67,-0.3, 2.74,-0.9, 2.85,0.2, 2.95,0.8, 3.05,-0.1, 3.15,-0.3, 3.26,-0.9, 3.36,-0.3, 3.46,-0.1, 3.56,0.8, 3.67,2.5, 3.77,3.1, 3.87,2.8, 4.0,2.5, 4.13,1.9, 4.38,0.2, 4.64,-1.5, 4.77,-4.9, 4.85,-5.5, 4.95,-5.8],
    [2.0,-3.8, 2.08,-2.6, 2.15,-1.5, 2.26,-0.3, 2.36,0.8, 2.46,1.9, 2.54,3.1, 2.62,4.8, 2.72,3.9, 2.79,1.9, 2.87,0.8, 2.97,0.2, 3.08,1.7, 3.18,1.4, 3.28,0.5, 3.38,1.9, 3.49,1.4, 3.62,3.1, 3.74,3.9, 3.87,3.1, 4.0,1.7, 4.13,0.8, 4.26,0.2, 4.46,-0.3, 4.56,-2.6, 4.72,-3.8, 4.90,-5.2, 5.03,-6.1, 5.18,-7.5],
    [2.0,-4.3, 2.05,-3.2, 2.13,-2.1, 2.21,-0.3, 2.28,0.8, 2.36,1.7, 2.44,2.5, 2.54,3.1, 2.64,1.9, 2.74,0.8, 2.85,1.7, 2.95,2.5, 3.05,1.4, 3.15,3.1, 3.26,2.5, 3.36,3.4, 3.46,2.2, 3.56,3.1, 3.69,3.9, 3.82,3.4, 3.95,2.8, 4.08,1.9, 4.28,-2.1, 4.38,-3.2, 4.59,-2.9, 4.79,-5.2, 4.90,-6.1, 5.0,-6.6],
    [2.0,-2.1, 2.05,-0.9, 2.13,-2.6, 2.21,-1.5, 2.28,-0.3, 2.36,-0.9, 2.44,0.2, 2.54,0.8, 2.62,1.4, 2.72,2.5, 2.82,3.1, 2.92,2.5, 3.03,3.9, 3.13,3.1, 3.23,4.2, 3.33,3.4, 3.44,4.2, 3.54,3.7, 3.64,3.1, 3.77,1.9, 3.90,2.5, 4.15,-0.3, 4.31,-1.5, 4.54,-3.8, 4.72,-4.9, 4.92,-4.3, 5.05,-5.8],
    [1.97,-3.8, 2.05,-2.6, 2.13,-1.5, 2.21,-0.3, 2.28,0.8, 2.38,1.4, 2.46,1.9, 2.54,2.8, 2.62,3.9, 2.69,2.5, 2.77,1.4, 2.87,0.8, 2.95,1.9, 3.05,1.7, 3.15,1.1, 3.26,2.5, 3.36,1.4, 3.46,0.8, 3.59,1.7, 3.72,2.5, 3.85,3.1, 3.97,1.4, 4.23,-0.9, 4.44,-1.5, 4.74,-4.9, 4.87,-6.6, 5.0,-7.2],
    [1.97,-4.9, 2.03,-3.2, 2.10,-2.1, 2.18,-1.5, 2.28,-0.3, 2.36,0.8, 2.44,1.4, 2.54,1.9, 2.64,3.1, 2.74,3.7, 2.85,4.5, 2.95,4.2, 3.05,3.7, 3.15,4.8, 3.26,3.9, 3.36,1.9, 3.46,0.8, 3.56,3.1, 3.69,2.5, 3.82,4.8, 3.95,2.5, 4.08,1.4, 4.33,-0.3, 4.46,-2.6, 4.59,-3.8, 4.77,-5.5, 4.92,-9.5, 5.0,-10.9],
    [1.97,-3.2, 2.05,-2.1, 2.13,-0.9, 2.21,0.2, 2.28,1.4, 2.38,2.5, 2.46,3.4, 2.54,4.2, 2.64,3.1, 2.72,3.7, 2.82,2.5, 2.90,1.7, 3.0,2.5, 3.10,1.9, 3.21,0.8, 3.31,1.4, 3.41,2.5, 3.54,1.9, 3.67,0.8, 3.79,2.8, 3.92,1.4, 4.05,0.2, 4.18,-0.3, 4.44,-2.1, 4.56,-1.5, 4.82,-5.8, 4.90,-7.8],
    [2.0,-2.6, 2.08,-1.5, 2.15,-0.3, 2.23,0.2, 2.31,1.4, 2.38,1.9, 2.46,0.8, 2.54,-0.1, 2.62,-0.3, 2.72,0.8, 2.82,0.2, 2.92,-0.3, 3.03,0.2, 3.13,0.8, 3.23,1.4, 3.33,1.9, 3.44,2.5, 3.54,3.1, 3.64,3.7, 3.74,4.5, 3.87,1.9, 4.0,2.8, 4.13,0.8, 4.38,-0.9, 4.77,-6.1, 4.90,-7.8, 4.97,-9.5],
    [1.97,0.2, 2.05,3.1, 2.13,1.4, 2.21,-0.3, 2.26,0.8, 2.33,1.9, 2.41,0.2, 2.49,-0.9, 2.56,-0.3, 2.64,-2.1, 2.72,-2.6, 2.82,-3.2, 2.92,-2.1, 3.0,-3.8, 3.08,-2.1, 3.21,-0.9, 3.38,0.2, 3.59,3.7, 3.97,3.1, 4.10,4.5, 4.23,1.4, 4.54,3.1, 4.74,-0.9, 2.31,-1.5, 2.05,-0.9, 5.77,3.9],
    [2.0,-4.3, 2.05,-3.2, 2.13,-2.1, 2.21,-0.9, 2.28,0.2, 2.38,1.4, 2.46,2.5, 2.54,3.1, 2.64,1.7, 2.72,0.8, 2.82,1.9, 2.90,2.5, 3.0,1.4, 3.10,0.5, 3.21,3.1, 3.31,1.9, 3.41,0.8, 3.54,2.5, 3.67,2.8, 3.79,1.4, 3.92,0.8, 4.05,0.5, 4.18,-0.3, 4.31,-2.1, 4.49,-0.9, 4.56,-3.2, 4.69,-6.1, 4.77,-7.5],
]
POINTS_415 = [
    [2.0,-4.3, 2.04,-2.8, 2.08,-3.4, 2.12,-1.7, 2.17,-0.6, 2.23,0.6, 2.30,1.4, 2.36,2.8, 2.43,2.3, 2.49,3.4, 2.56,4.0, 2.58,2.6, 2.66,2.8, 2.71,1.7, 2.79,1.1, 2.88,0.0, 2.95,2.0, 3.01,1.7, 3.08,1.4, 3.21,0.0, 3.34,0.0, 3.47,2.6, 3.60,2.3, 3.73,2.0, 3.79,2.6, 3.92,-1.1, 4.05,-1.1, 4.12,1.1, 4.44,-2.8, 4.64,-1.1, 4.77,-5.7, 4.83,-4.0, 4.96,-2.3],
    [1.97,-1.1, 2.04,-2.3, 2.08,-3.4, 2.14,-4.5, 2.10,-1.7, 2.17,0.0, 2.23,0.6, 2.30,1.1, 2.36,2.0, 2.43,1.7, 2.49,0.6, 2.56,2.8, 2.62,4.0, 2.69,2.3, 2.75,1.4, 2.82,2.0, 2.88,0.9, 2.95,2.0, 3.01,1.4, 3.08,0.6, 3.14,1.4, 3.21,1.1, 3.34,0.9, 3.47,1.7, 3.53,2.8, 3.60,2.3, 3.66,2.0, 3.79,-1.1, 3.86,0.6, 3.99,1.4, 4.12,1.7, 4.25,1.7, 4.38,1.7, 4.51,-1.7, 4.64,-1.1, 4.77,-6.0, 4.90,-6.3, 5.09,-6.8],
    [2.0,-4.5, 2.04,-3.4, 2.09,-2.3, 2.13,-1.4, 2.19,-0.6, 2.26,0.6, 2.32,2.0, 2.39,4.3, 2.52,4.0, 2.58,2.8, 2.65,1.7, 2.71,1.4, 2.78,2.0, 2.84,3.4, 2.91,3.7, 2.97,4.0, 3.04,2.6, 3.10,1.4, 3.17,0.9, 3.23,5.4, 3.30,1.1, 3.36,0.6, 3.43,-0.6, 3.56,3.1, 3.62,2.3, 3.75,-0.6, 3.88,0.6, 4.01,1.1, 4.08,-3.4, 4.21,0.9, 4.34,2.8, 4.40,2.8, 4.66,-2.3, 4.73,-5.7, 4.79,-7.4, 4.92,-8.8, 5.05,-8.8],
    [2.0,-2.6, 2.05,-1.5, 2.13,-3.2, 2.21,-2.1, 2.28,-0.3, 2.36,0.2, 2.44,1.4, 2.51,0.8, 2.62,-0.3, 2.69,0.5, 2.77,1.9, 2.87,1.4, 2.95,0.5, 3.03,-0.3, 3.13,0.8, 3.23,1.7, 3.31,2.5, 3.38,3.1, 3.46,3.9, 3.56,1.9, 3.64,1.4, 3.77,1.9, 3.90,3.1, 4.03,0.8, 4.15,2.5, 4.28,1.9, 4.41,-0.3, 4.54,-2.1, 4.79,-2.6, 4.92,-6.6, 5.05,-4.3],
    [1.97,-4.9, 2.03,-3.5, 2.10,-2.1, 2.18,-0.9, 2.26,0.2, 2.33,1.4, 2.44,2.5, 2.51,3.1, 2.59,3.9, 2.69,2.8, 2.79,1.9, 2.90,1.4, 3.0,2.5, 3.10,3.1, 3.21,1.9, 3.31,1.1, 3.41,2.2, 3.51,4.5, 3.62,3.7, 3.72,1.7, 3.85,0.8, 4.03,2.5, 4.18,-2.1, 4.36,-0.3, 4.49,0.2, 4.74,-3.8, 4.87,-7.8, 5.0,-8.3],
    [1.97,-4.9, 2.03,-3.5, 2.10,-2.1, 2.18,-0.9, 2.28,0.2, 2.36,1.1, 2.44,1.9, 2.54,2.8, 2.64,3.7, 2.74,3.1, 2.85,3.9, 2.95,4.8, 3.0,5.7, 3.10,4.2, 3.21,3.1, 3.31,1.9, 3.41,2.5, 3.51,1.4, 3.62,2.2, 3.72,3.1, 3.82,2.5, 3.95,1.9, 4.08,1.7, 4.33,0.2, 4.46,-1.5, 4.64,-6.1, 4.77,-7.8, 4.97,-10.1, 5.05,-10.9],
    [1.97,-3.2, 2.03,-2.1, 2.10,-1.5, 2.18,-0.3, 2.26,0.2, 2.33,0.8, 2.44,1.9, 2.54,3.1, 2.64,3.7, 2.74,2.5, 2.85,3.1, 2.95,2.2, 3.05,1.4, 3.15,1.9, 3.26,0.8, 3.36,1.4, 3.46,0.2, 3.56,1.1, 3.67,0.5, 3.79,-0.3, 3.92,-0.9, 4.18,-1.5, 4.44,-2.1, 4.69,-3.2, 4.82,-4.9],
    [2.0,-2.6, 2.05,-1.5, 2.13,-0.3, 2.21,0.8, 2.28,1.9, 2.36,2.5, 2.46,1.4, 2.56,0.8, 2.67,1.9, 2.77,2.5, 2.87,1.4, 2.97,0.5, 3.08,1.9, 3.18,2.5, 3.28,1.4, 3.38,2.2, 3.49,3.7, 3.59,2.5, 3.69,3.1, 3.79,1.9, 3.90,2.5, 4.0,1.4, 4.26,0.8, 4.51,-0.3, 4.77,-6.1, 4.90,-10.3],
    [1.97,-2.1, 2.05,-0.9, 2.13,0.2, 2.21,1.4, 2.28,2.5, 2.33,3.4, 2.41,1.9, 2.49,0.2, 2.56,-1.5, 2.67,-2.1, 2.77,-2.6, 2.87,-3.2, 2.97,-2.1, 3.08,-0.9, 3.33,-0.3, 3.64,4.8, 3.79,3.7, 4.0,5.1, 4.23,-0.3, 4.74,1.4, 5.38,1.4, 5.72,-2.6],
    [2.0,-2.6, 2.05,-1.5, 2.13,-0.3, 2.21,0.8, 2.28,1.9, 2.38,0.2, 2.46,-1.5, 2.54,-0.3, 2.64,2.5, 2.72,3.7, 2.82,1.9, 2.90,0.8, 2.97,2.2, 3.08,3.1, 3.18,1.9, 3.28,3.7, 3.41,1.9, 3.54,3.4, 3.67,2.8, 3.79,1.7, 3.92,0.8, 4.05,0.2, 4.18,-0.3, 4.31,-1.5, 4.49,-2.1, 4.69,-6.1, 4.79,-7.2],
]

CURVES = {936: CURVE_936, 870: CURVE_870, 670: CURVE_670, 615: CURVE_615, 500: CURVE_500, 415: CURVE_415}
POINTS = {936: POINTS_936, 870: POINTS_870, 670: POINTS_670, 615: POINTS_615, 500: POINTS_500, 415: POINTS_415}

# ---------------- layout ----------------
W = 102.4            # panel width (px)
H = 226              # panel + two strips (px)
X0, X1 = 1.88, 5.90  # airmass domain of one panel
Y_LO = -0.01613      # bottom of panel
Y_PT = 0.01630       # top of data region
STRIP = 0.003068     # one strip height in data units (18 px)
Y_MID = Y_PT + STRIP
Y_HI = Y_PT + 2 * STRIP

FONT = "Arial"
CYAN = "#00FFFF"
GRID_DASH = [9, 6]

def pairs(flat):
    return pd.DataFrame({"x": flat[0::2], "y": [v * 1e-3 for v in flat[1::2]]})

Y_LABEL_EXPR = "datum.value == 0 ? '0.0' : replace(format(datum.value, '.3f'), '\u2212', '-')"

def x_axis(r, c):
    common = dict(values=X_TICKS, format="d", ticks=True, tickSize=7, tickColor="black",
                  tickWidth=1, labelFontSize=12, labelFont=FONT, labelColor="black",
                  labelFlush=False, domain=False, grid=False, title=None)
    if r == 0:
        return alt.Axis(orient="top", labels=(c % 2 == 1), labelPadding=2, **common)
    if r == len(LAMBDA_ROWS) - 1:
        return alt.Axis(orient="bottom", labels=(c % 2 == 0), labelPadding=7, **common)
    return None

def y_axis(r, c):
    common = dict(values=Y_TICKS, labelExpr=Y_LABEL_EXPR, ticks=True, tickColor="black",
                  tickWidth=1, labelFontSize=12, labelFont=FONT, labelColor="black",
                  labelFlush=False, domain=False, grid=False, title=None)
    if c == 0:
        return alt.Axis(orient="left", labels=(r % 2 == 1), tickSize=8, labelPadding=2, **common)
    if c == len(DOYS) - 1:
        return alt.Axis(orient="right", labels=(r % 2 == 0), tickSize=5, labelPadding=3, **common)
    return None


def panel(r, c):
    lam = LAMBDA_ROWS[r]
    doy = DOYS[c]
    li = LAMBDA_LEVELS.index(lam)
    span = X1 - X0
    xs = alt.Scale(domain=[X0, X1], nice=False, zero=False)
    ys = alt.Scale(domain=[Y_LO, Y_HI], nice=False, zero=False)
    xa = x_axis(r, c)
    ya = y_axis(r, c)

    def X(f):
        return alt.X(f, type="quantitative", scale=xs, axis=xa)

    def Y(f):
        return alt.Y(f, type="quantitative", scale=ys, axis=ya)

    strips = pd.DataFrame([
        {"x": X0, "x2": X1, "y": Y_MID, "y2": Y_HI, "fill": "#CCFFCC"},
        {"x": X0 + span * li / 6, "x2": X0 + span * (li + 1) / 6, "y": Y_MID, "y2": Y_HI, "fill": "#2EE62E"},
        {"x": X0, "x2": X1, "y": Y_PT, "y2": Y_MID, "fill": "#FFE5CC"},
        {"x": X0 + span * c / 10, "x2": X0 + span * (c + 1) / 10, "y": Y_PT, "y2": Y_MID, "fill": "#FF7F00"},
    ])
    boxes = pd.DataFrame([
        {"x": X0, "x2": X1, "y": Y_MID, "y2": Y_HI},
        {"x": X0, "x2": X1, "y": Y_PT, "y2": Y_MID},
    ])
    frame = pd.DataFrame([{"x": X0, "x2": X1, "y": Y_LO, "y2": Y_PT}])
    texts = pd.DataFrame([
        {"x": (X0 + X1) / 2, "y": (Y_MID + Y_HI) / 2, "t": f"LAMBDA: {lam}"},
        {"x": (X0 + X1) / 2, "y": (Y_PT + Y_MID) / 2, "t": f"DOY: {doy}"},
    ])
    gv = pd.DataFrame({"x": X_TICKS, "y": [Y_LO] * 4, "y2": [Y_PT] * 4})
    gh = pd.DataFrame({"y": Y_TICKS, "x": [X0] * len(Y_TICKS), "x2": [X1] * len(Y_TICKS)})
    pts = pairs(POINTS[lam][c])
    cur = pairs(CURVES[lam][c])

    strip_fill = alt.Chart(strips).mark_rect(strokeWidth=0).encode(
        x=X("x"), x2="x2", y=Y("y"), y2="y2", color=alt.Color("fill:N", scale=None))
    strip_box = alt.Chart(boxes).mark_rect(fill="transparent", stroke="black", strokeWidth=1).encode(
        x=X("x"), x2="x2", y=Y("y"), y2="y2")
    strip_txt = alt.Chart(texts).mark_text(fontSize=15, font=FONT, color="black",
                                           baseline="middle", align="center").encode(
        x=X("x"), y=Y("y"), text="t:N")
    grid_v = alt.Chart(gv).mark_rule(color="#333333", strokeWidth=1, strokeDash=GRID_DASH).encode(
        x=X("x"), y=Y("y"), y2="y2")
    grid_h = alt.Chart(gh).mark_rule(color="#333333", strokeWidth=1, strokeDash=GRID_DASH).encode(
        y=Y("y"), x=X("x"), x2="x2")
    points = alt.Chart(pts).mark_point(shape="M-1,0H1M0,-1V1", size=81, filled=False,
                                       color=CYAN, strokeWidth=1, opacity=1).encode(
        x=X("x"), y=Y("y"))
    line = alt.Chart(cur).mark_line(color="black", strokeWidth=1, interpolate="monotone").encode(
        x=X("x"), y=Y("y"))
    border = alt.Chart(frame).mark_rect(fill="transparent", stroke="black", strokeWidth=1.8).encode(
        x=X("x"), x2="x2", y=Y("y"), y2="y2")

    return alt.layer(strip_fill, strip_box, strip_txt, grid_v, grid_h, points, line, border).properties(
        width=W, height=H)


panels = [panel(r, c) for r in range(len(LAMBDA_ROWS)) for c in range(len(DOYS))]

grid = alt.concat(*panels, columns=len(DOYS), spacing=0, bounds="flush").properties(
    title=alt.TitleParams("residuals", orient="left", anchor="middle", fontSize=29, font=FONT,
                          fontWeight="normal", color="black", offset=12))

chart = alt.vconcat(grid, spacing=0).properties(
    title=alt.TitleParams("airmass", orient="bottom", anchor="middle", fontSize=29, font=FONT,
                          fontWeight="normal", color="black", offset=28, dx=22),
    padding={"left": 3, "top": 0, "right": 0, "bottom": 0},
).configure_view(stroke="transparent").configure(background="white")

chart.save("out.html", embed_options={"renderer": "svg", "actions": False})
